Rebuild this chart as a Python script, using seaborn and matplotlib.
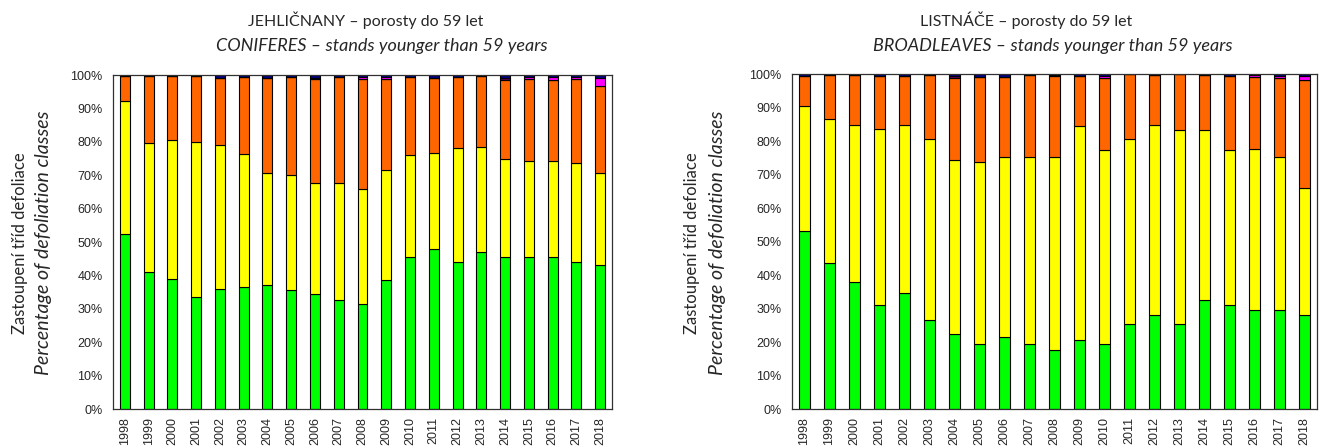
import numpy as np
import pandas as pd
import seaborn as sns
from matplotlib import pyplot as plt
from matplotlib.ticker import FuncFormatter, MultipleLocator

years = list(range(1998, 2019))
classes = ["0", "1", "2", "3", "3+", "4"]
colors = ["#00FF00", "#FFFF00", "#FF6600", "#660066", "#FF00FF", "#000080"]

# coniferous stands younger than 59 years (% of trees in each class)
con_0 = [52.5, 41.0, 39.0, 33.5, 36.0, 36.5, 37.0, 35.5, 34.5, 32.5, 31.5,
         38.5, 45.5, 48.0, 44.0, 47.0, 45.5, 45.5, 45.5, 44.0, 43.0]
con_1 = [39.7, 38.5, 41.6, 46.5, 43.0, 39.9, 33.6, 34.6, 33.1, 35.1, 34.3,
         33.2, 30.4, 28.7, 34.1, 31.4, 29.4, 28.9, 28.8, 29.8, 27.6]
con_2 = [7.5, 20.2, 19.0, 19.7, 20.1, 23.0, 28.4, 29.3, 31.1, 31.7, 33.0,
         27.1, 23.4, 22.4, 21.3, 21.3, 23.5, 24.4, 24.1, 24.9, 26.1]
con_3 = [0, 0, 0, 0, 0, 0, 0, 0, 0, 0, 0,
         0, 0, 0, 0, 0, 0.7, 0, 0, 0, 0]
con_3p = [0, 0, 0, 0, 0, 0, 0, 0, 0.4, 0, 0.5,
          0.5, 0, 0, 0, 0, 0, 0.5, 0.9, 0.6, 2.5]
con_4 = [0.3, 0.3, 0.4, 0.3, 0.9, 0.6, 1.0, 0.6, 0.9, 0.7, 0.7,
         0.7, 0.7, 0.9, 0.6, 0.3, 0.9, 0.7, 0.7, 0.7, 0.8]

# broadleaved stands younger than 59 years
brd_0 = [53.0, 43.5, 38.0, 31.0, 34.5, 26.5, 22.5, 19.5, 21.5, 19.5, 17.5,
         20.5, 19.5, 25.5, 28.0, 25.5, 32.5, 31.0, 29.5, 29.5, 28.0]
brd_1 = [37.4, 43.0, 46.9, 52.7, 50.2, 54.1, 51.9, 54.2, 53.8, 55.6, 57.6,
         64.1, 57.8, 55.1, 56.7, 57.9, 50.7, 46.4, 48.1, 45.8, 37.9]
brd_2 = [8.9, 13.3, 14.7, 15.6, 14.8, 19.0, 24.5, 25.5, 23.7, 24.5, 24.2,
         14.9, 21.6, 19.3, 15.0, 16.5, 16.6, 22.0, 21.4, 23.4, 32.4]
brd_3 = [0, 0, 0, 0, 0, 0, 0.6, 0, 0, 0, 0,
         0, 0, 0, 0, 0, 0, 0, 0, 0, 0]
brd_3p = [0, 0, 0, 0, 0, 0, 0, 0, 0, 0, 0.3,
          0, 0.6, 0, 0, 0, 0, 0, 0.7, 0.8, 1.0]
brd_4 = [0.7, 0.2, 0.4, 0.7, 0.5, 0.4, 0.5, 0.8, 1.0, 0.4, 0.4,
         0.5, 0.5, 0.1, 0.3, 0.1, 0.2, 0.6, 0.3, 0.5, 0.7]

coniferes = [con_0, con_1, con_2, con_3, con_3p, con_4]
broadleaves = [brd_0, brd_1, brd_2, brd_3, brd_3p, brd_4]


def long_table(series):
    rows = []
    for cls, values in zip(classes, series):
        for year, v in zip(years, values):
            rows.append({"year": year, "cls": cls, "share": v})
    return pd.DataFrame(rows)


def draw_panel(ax, series):
    df = long_table(series)
    sns.histplot(
        data=df, x="year", weights="share", hue="cls",
        hue_order=classes[::-1], palette=dict(zip(classes, colors)),
        multiple="stack", discrete=True, shrink=0.42,
        edgecolor="black", linewidth=0.8, alpha=1, legend=False, ax=ax,
    )
    ax.set_xlim(1997.5, 2018.5)
    ax.set_ylim(0, 100)
    ax.set_xticks(years)
    ax.set_xticklabels([str(y) for y in years], rotation=90)
    ax.xaxis.set_minor_locator(MultipleLocator(1, offset=0.5))
    ax.tick_params(axis="x", which="major", length=0, pad=6,
                   labelsize=9, labelfontfamily="Liberation Sans")
    ax.tick_params(axis="x", which="minor", length=4, color="#404040")
    ax.yaxis.set_major_locator(MultipleLocator(10))
    ax.yaxis.set_major_formatter(FuncFormatter(lambda v, p: f"{v:.0f}%"))
    ax.tick_params(axis="y", length=4, color="#404040", labelsize=9,
                   labelfontfamily="Liberation Sans")
    ax.set_xlabel("")
    ax.set_ylabel("")
    for side in ["top", "right", "left", "bottom"]:
        ax.spines[side].set_visible(True)
        ax.spines[side].set_color("#303030")
        ax.spines[side].set_linewidth(0.9)


sns.set_style("white")
plt.rcParams["font.family"] = ["Lato", "DejaVu Sans"]

fig = plt.figure(figsize=(13.22, 4.48), dpi=100)
ax1 = fig.add_axes([113 / 1322, 39 / 448, 499 / 1322, 334 / 448])
ax2 = fig.add_axes([792 / 1322, 39 / 448, 525 / 1322, 335 / 448])

draw_panel(ax1, coniferes)
draw_panel(ax2, broadleaves)

fs = 11.5
fs_it = 13
fig.text(366 / 1322, 1 - 20 / 448, "JEHLIČNANY – porosty do 59 let",
         ha="center", va="center", fontsize=fs)
fig.text(382 / 1322, 1 - 46 / 448, "CONIFERES – stands younger than 59 years",
         ha="center", va="center", fontsize=fs_it, style="italic")
fig.text(1026 / 1322, 1 - 20 / 448, "LISTNÁČE – porosty do 59 let",
         ha="center", va="center", fontsize=fs)
fig.text(1053 / 1322, 1 - 46 / 448, "BROADLEAVES – stands younger than 59 years",
         ha="center", va="center", fontsize=fs_it, style="italic")

for x1, x2 in [(20, 44), (692, 717)]:
    fig.text(x1 / 1322, 1 - 243 / 448, "Zastoupení tříd defoliace",
             ha="center", va="center", rotation=90, fontsize=12)
    fig.text(x2 / 1322, 1 - 243 / 448, "Percentage of defoliation classes",
             ha="center", va="center", rotation=90, fontsize=14,
             style="italic")

fig.savefig("out.png", dpi=100)
